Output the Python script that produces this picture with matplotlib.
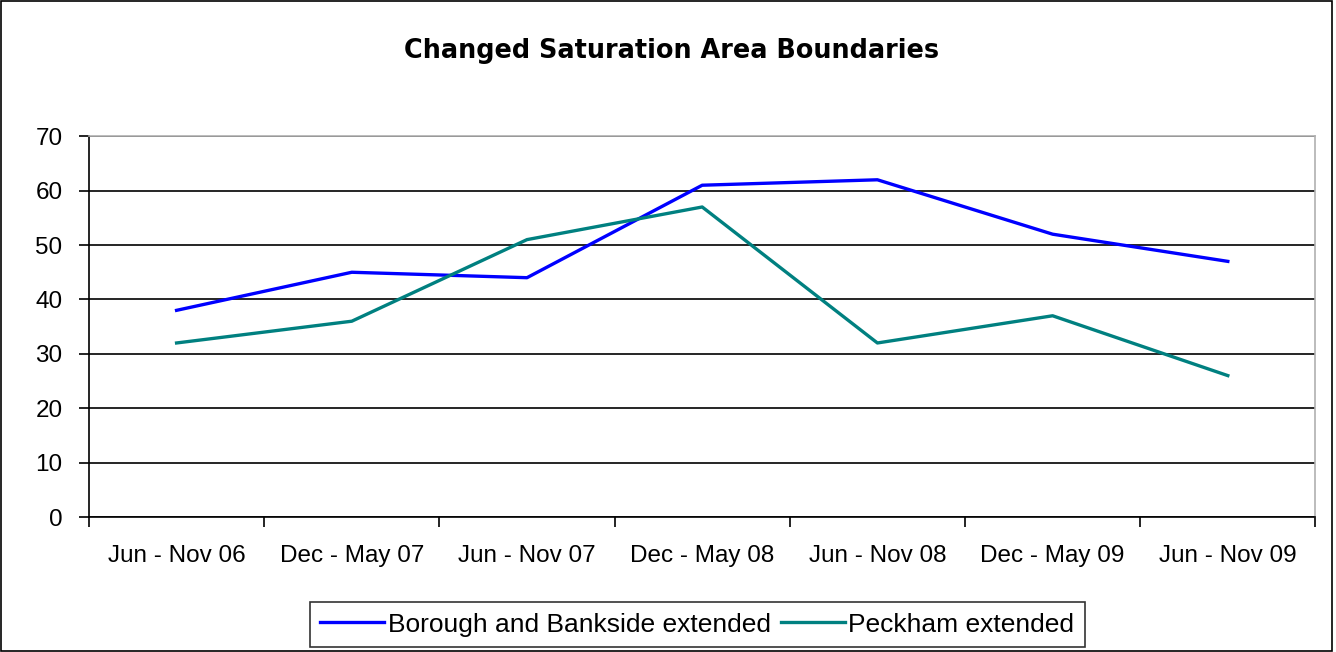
import matplotlib
matplotlib.use("Agg")
import matplotlib.pyplot as plt
from matplotlib.patches import Rectangle

periods = ["Jun - Nov 06", "Dec - May 07", "Jun - Nov 07", "Dec - May 08",
           "Jun - Nov 08", "Dec - May 09", "Jun - Nov 09"]
borough = [38, 45, 44, 61, 62, 52, 47]
peckham = [32, 36, 51, 57, 32, 37, 26]

plt.rcParams["font.family"] = ["Liberation Sans", "DejaVu Sans"]

fig = plt.figure(figsize=(13.36, 6.52), dpi=100)
ax = fig.add_axes([0.0666, 0.207, 0.918, 0.584])

x = list(range(len(periods)))
ax.plot(x, borough, color="#0000ff", lw=2.4, label="Borough and Bankside extended")
ax.plot(x, peckham, color="#008080", lw=2.4, label="Peckham extended")

ax.set_xlim(-0.5, len(periods) - 0.5)
ax.set_ylim(0, 70)
ax.set_yticks(range(0, 71, 10))
ax.yaxis.grid(True, color="black", lw=1.2)
ax.set_axisbelow(True)

# category ticks between groups, labels centred on groups
ax.set_xticks(x)
ax.set_xticklabels(periods, fontsize=17.5)
ax.set_xticks([i - 0.5 for i in range(len(periods) + 1)], minor=True)
ax.tick_params(axis="x", which="major", length=0, pad=20)
ax.tick_params(axis="x", which="minor", length=7, width=1.2, direction="out")
ax.tick_params(axis="y", length=7, width=1.2, labelsize=17.5, pad=12)

for s in ["top", "right"]:
    ax.spines[s].set_color("#b0b0b0")
    ax.spines[s].set_linewidth(1.2)
for s in ["left", "bottom"]:
    ax.spines[s].set_color("black")
    ax.spines[s].set_linewidth(1.2)

fig.text(0.503, 0.922, "Changed Saturation Area Boundaries", ha="center",
         va="center", fontsize=18.4, fontweight="bold", family="DejaVu Sans")

leg = fig.legend(loc="center", bbox_to_anchor=(0.522, 0.042), ncol=2,
                 fontsize=19, frameon=True, fancybox=False, handlelength=2.4,
                 handletextpad=0.15, columnspacing=0.4, borderpad=0.4)
leg.get_frame().set_edgecolor("black")
leg.get_frame().set_linewidth(1.2)

fig.patches.append(Rectangle((0.001, 0.002), 0.996, 0.996, transform=fig.transFigure,
                             fill=False, edgecolor="black", lw=1.2))

fig.savefig("out.png", dpi=100)
